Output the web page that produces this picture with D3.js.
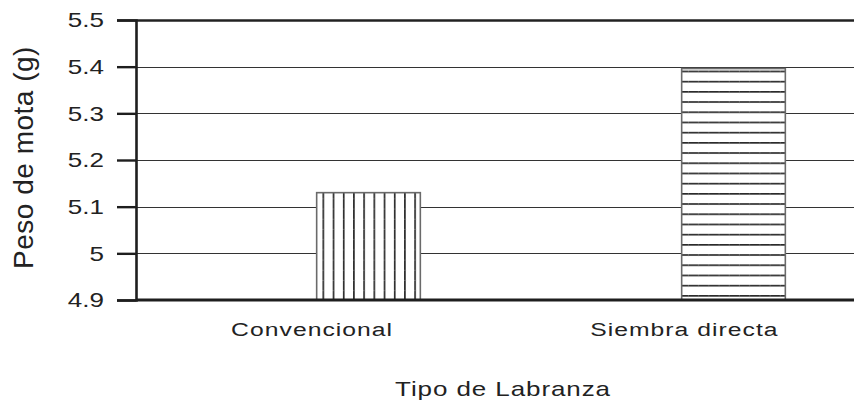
<!DOCTYPE html>
<html>
<head>
<meta charset="utf-8">
<script src="https://cdn.jsdelivr.net/npm/d3@7"></script>
<style>
  html, body { margin: 0; padding: 0; background: #fff; }
  svg { display: block; }
  text { font-family: "Liberation Sans", Arial, Helvetica, sans-serif; fill: #222; }
</style>
</head>
<body>
<svg id="chart" width="854" height="400"></svg>
<script>
const categories = ["Convencional", "Siembra directa"];
const values = [5.13, 5.396];
const yTicks = [4.9, 5.0, 5.1, 5.2, 5.3, 5.4, 5.5];
const yTickLabels = ["4.9", "5", "5.1", "5.2", "5.3", "5.4", "5.5"];
const xTitle = "Tipo de Labranza";
const yTitle = "Peso de mota (g)";

const W = 854, H = 400;
const plot = { left: 136, right: 854, top: 20, bottom: 300 };
const SX = 1.3;

const svg = d3.select("#chart");

const y = d3.scaleLinear().domain([4.9, 5.5]).range([plot.bottom, plot.top]);
const xBar = d3.scaleBand().domain(categories).range([186, 916]).paddingInner(0.716).paddingOuter(0.358);
const xLab = d3.scaleBand().domain(categories).range([126, 870.5]);

const defs = svg.append("defs");
// vertical line pattern
const pv = defs.append("pattern").attr("id", "pv").attr("patternUnits", "userSpaceOnUse")
  .attr("width", 10.2).attr("height", 10.2)
  .attr("patternTransform", `translate(${xBar(categories[0]) + 5.8},0)`);
pv.append("rect").attr("width", 10.2).attr("height", 10.2).attr("fill", "#fff");
pv.append("line").attr("x1", 0.75).attr("x2", 0.75).attr("y1", 0).attr("y2", 10.2).attr("stroke", "#8a8a8a").attr("stroke-width", 2.2);
pv.append("line").attr("x1", 0.75).attr("x2", 0.75).attr("y1", 0).attr("y2", 10.2).attr("stroke", "#151515").attr("stroke-width", 1.2);
pv.append("line").attr("x1", -0.5).attr("x2", 2).attr("y1", 5).attr("y2", 5).attr("stroke", "#777").attr("stroke-width", 0.6);
// horizontal line pattern
const ph = defs.append("pattern").attr("id", "ph").attr("patternUnits", "userSpaceOnUse")
  .attr("width", 10.2).attr("height", 10.2)
  .attr("patternTransform", `translate(0,${plot.bottom - 5})`);
ph.append("rect").attr("width", 10.2).attr("height", 10.2).attr("fill", "#fff");
ph.append("line").attr("y1", 0.75).attr("y2", 0.75).attr("x1", 0).attr("x2", 10.2).attr("stroke", "#8a8a8a").attr("stroke-width", 2.2);
ph.append("line").attr("y1", 0.75).attr("y2", 0.75).attr("x1", 0).attr("x2", 10.2).attr("stroke", "#151515").attr("stroke-width", 1.2);
ph.append("line").attr("y1", -0.5).attr("y2", 2).attr("x1", 5).attr("x2", 5).attr("stroke", "#777").attr("stroke-width", 0.6);

// gridlines
svg.append("g").selectAll("line").data(yTicks.filter(d => d > 4.9)).join("line")
  .attr("x1", plot.left).attr("x2", plot.right)
  .attr("y1", d => Math.round(y(d)) + 0.5).attr("y2", d => Math.round(y(d)) + 0.5)
  .attr("stroke", d => d === 5.5 ? "#222" : "#333")
  .attr("stroke-width", d => d === 5.5 ? 2.5 : 1.2);

// bars
svg.append("g").selectAll("rect").data(categories).join("rect")
  .attr("x", d => xBar(d))
  .attr("y", (d, i) => y(values[i]))
  .attr("width", xBar.bandwidth())
  .attr("height", (d, i) => y(4.9) - y(values[i]))
  .attr("fill", (d, i) => i === 0 ? "url(#pv)" : "url(#ph)")
  .attr("stroke", "#6a6a6a").attr("stroke-width", 1.6);

// bottom axis line
svg.append("line").attr("x1", plot.left).attr("x2", plot.right)
  .attr("y1", plot.bottom).attr("y2", plot.bottom)
  .attr("stroke", "#1e1e1e").attr("stroke-width", 3);

// y axis
const yAxis = d3.axisLeft(y).tickValues(yTicks).tickSize(19).tickFormat("");
const gy = svg.append("g").attr("transform", `translate(${plot.left},0)`).call(yAxis);
gy.select(".domain").attr("stroke", "#1e1e1e").attr("stroke-width", 2.6);
gy.selectAll(".tick line").attr("stroke", "#1e1e1e").attr("stroke-width", 2.4);

// y tick labels
svg.append("g").selectAll("g").data(yTicks).join("g")
  .attr("transform", d => `translate(104,${y(d)}) scale(${SX},1)`)
  .append("text").attr("text-anchor", "end").attr("dy", "0.36em")
  .attr("font-size", 20).text((d, i) => yTickLabels[i]);

// category labels
svg.append("g").selectAll("g").data(categories).join("g")
  .attr("transform", d => `translate(${xLab(d) + xLab.bandwidth() / 2},336) scale(${SX},1)`)
  .append("text").attr("text-anchor", "middle").attr("font-size", 19).attr("letter-spacing", 0.8).text(d => d);

// x title
svg.append("g").attr("transform", `translate(503,396) scale(${SX},1)`)
  .append("text").attr("text-anchor", "middle").attr("font-size", 20).attr("letter-spacing", 0.7).text(xTitle);

// y title
svg.append("g").attr("transform", `translate(33,157.5) rotate(-90)`)
  .append("text").attr("text-anchor", "middle").attr("font-size", 28).attr("letter-spacing", 0.5).text(yTitle);
</script>
</body>
</html>
